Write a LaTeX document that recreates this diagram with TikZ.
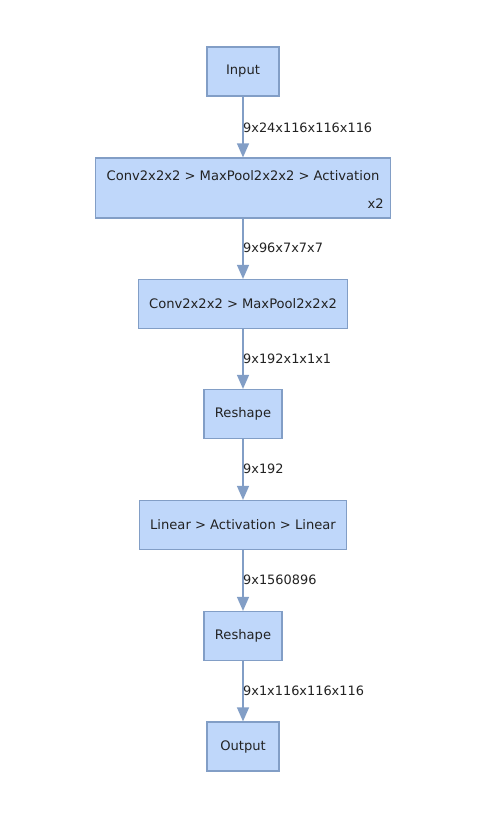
\documentclass[tikz,border=0pt]{standalone}
\usepackage{fontspec}
\setmainfont{DejaVu Sans}
\usetikzlibrary{arrows.meta}

\definecolor{boxfill}{RGB}{191,215,250}
\definecolor{boxline}{RGB}{130,158,198}
\definecolor{txt}{RGB}{34,34,34}

\tikzset{
  block/.style={draw=boxline, fill=boxfill, line width=1.2pt, minimum height=49pt, text=txt, inner sep=0pt,
    font=\fontsize{13.1}{15}\selectfont},
  flow/.style={draw=boxline, line width=1.3pt, -{Triangle[width=12pt,length=14pt]}},
  shape label/.style={anchor=west, inner sep=0pt, text=txt, font=\fontsize{12.9}{15}\selectfont}
}

\begin{document}
\begin{tikzpicture}[x=1pt, y=-1pt, font=\fontsize{13.1}{15}\selectfont]
            \useasboundingbox (0,0) rectangle (487,819);

            \node[block, minimum width=72pt] (input) at (243,71.5) {Input};

            \node[block, minimum width=295pt, minimum height=60pt] (conva) at (243,188) {};
            \node[text=txt, inner sep=0pt] (convatext) at (243,176) {Conv2x2x2 > MaxPool2x2x2 > Activation};
            \node[text=txt, inner sep=0pt, anchor=east] (convarep) at (384,204) {x2};

            \node[block, minimum width=209pt] (convb) at (243,304) {Conv2x2x2 > MaxPool2x2x2};
            \node[block, minimum width=78pt] (reshapea) at (243,414) {Reshape};
            \node[block, minimum width=207pt] (linear) at (243,525) {Linear > Activation > Linear};
            \node[block, minimum width=78pt] (reshapeb) at (243,636) {Reshape};
            \node[block, minimum width=72pt] (output) at (243,746.5) {Output};

            \draw[flow] (input) -- (conva);
            \draw[flow] (conva) -- (convb);
            \draw[flow] (convb) -- (reshapea);
            \draw[flow] (reshapea) -- (linear);
            \draw[flow] (linear) -- (reshapeb);
            \draw[flow] (reshapeb) -- (output);

            \node[shape label] at (243,127.5) {9x24x116x116x116};
            \node[shape label] at (243,247.5) {9x96x7x7x7};
            \node[shape label] at (243,358.5) {9x192x1x1x1};
            \node[shape label] at (243,468.5) {9x192};
            \node[shape label] at (243,579.5) {9x1560896};
            \node[shape label] at (243,690.5) {9x1x116x116x116};
        \end{tikzpicture}
\end{document}
